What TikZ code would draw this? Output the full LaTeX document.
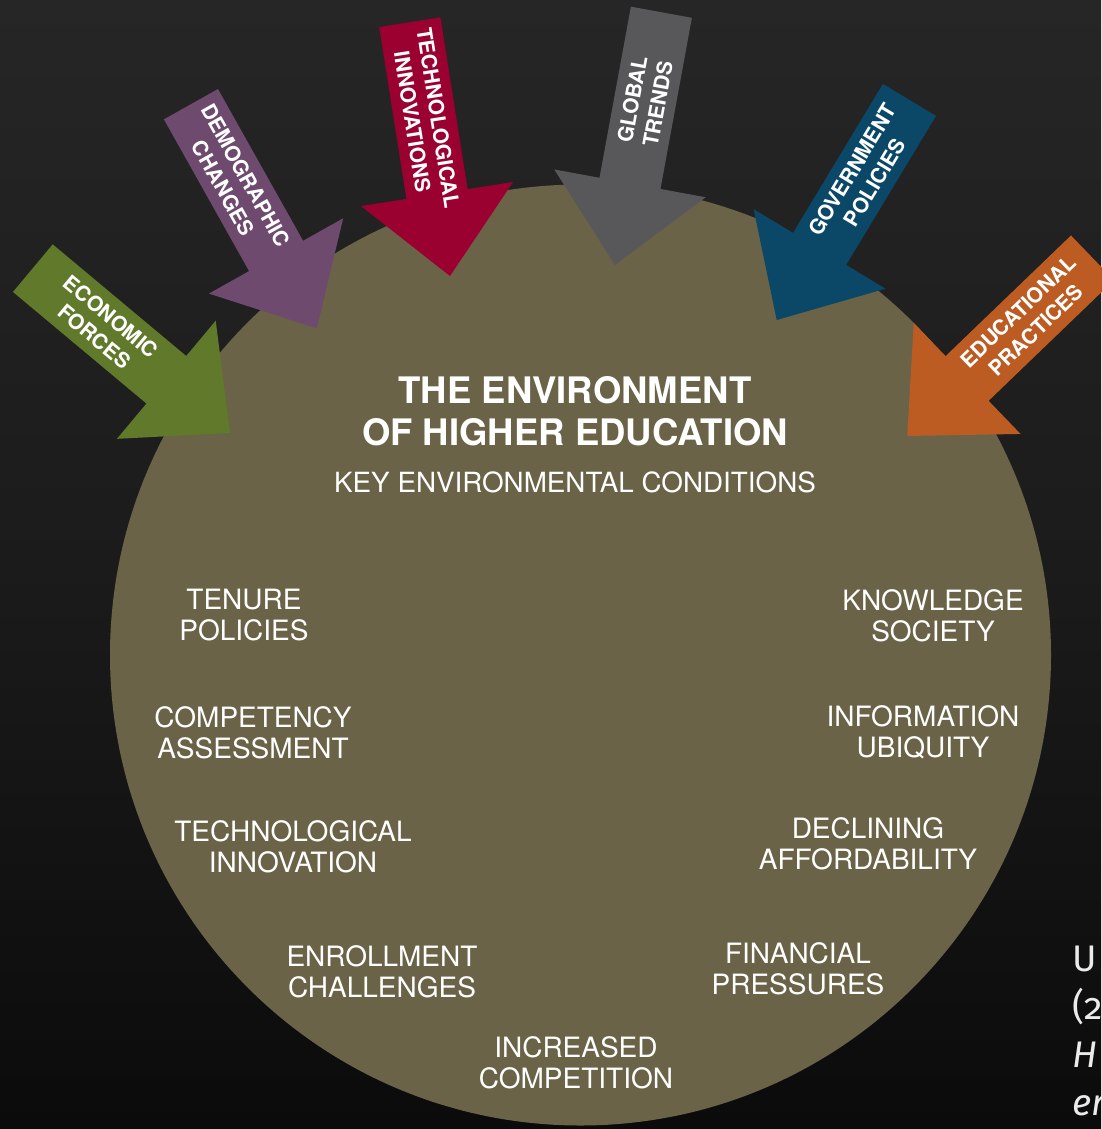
\documentclass[tikz,border=0pt]{standalone}
\usepackage{fontspec}
\setmainfont{TeX Gyre Heros}
\newfontfamily\notefont[Numbers=OldStyle]{Fira Sans}
\definecolor{bgtop}{RGB}{38,38,38}
\definecolor{bgmid}{RGB}{27,27,27}
\definecolor{bgbot}{RGB}{11,11,11}
\definecolor{envfill}{RGB}{106,99,71}
\definecolor{cgreen}{RGB}{96,121,42}
\definecolor{cpurple}{RGB}{110,74,110}
\definecolor{ccrimson}{RGB}{154,0,48}
\definecolor{cgrey}{RGB}{88,88,90}
\definecolor{cblue}{RGB}{11,72,104}
\definecolor{corange}{RGB}{189,92,34}
\tikzset{
  arrowlabel/.style={text=white, align=center, inner sep=0pt,
    font=\fontsize{21}{26}\selectfont\bfseries},
  condlabel/.style={text=white, align=center, inner sep=0pt,
    font=\fontsize{28}{31}\selectfont},
  titlelabel/.style={text=white, align=center, inner sep=0pt,
    font=\fontsize{36.5}{42}\selectfont\bfseries},
  sublabel/.style={text=white, inner sep=0pt,
    font=\fontsize{27.8}{31}\selectfont},
  notelabel/.style={text=white!92!black, inner sep=0pt, anchor=base west,
    font=\fontsize{37}{48}\selectfont\notefont},
}
% #1 name, #2 tip, #3 angle, #4 colour, #5 text, #6 extra text rotation, #7 text distance from tip
\newcommand\forcearrow[7]{%
  \begin{scope}[shift={#2}, rotate=#3]
    \fill[#4] (0,0) -- (-83,77) -- (-83,31) -- (-257,31) -- (-257,-31)
      -- (-83,-31) -- (-83,-77) -- cycle;
    \node[arrowlabel, transform shape, rotate=#6] (#1) at (-#7,0) {#5};
  \end{scope}}
\begin{document}
\begin{tikzpicture}[x=1pt,y=-1pt]
\useasboundingbox (0,0) rectangle (1101,1129);
\shade[top color=bgtop, bottom color=bgbot, middle color=bgmid] (0,0) rectangle (1101,1129);
\node[circle, fill=envfill, inner sep=0pt, minimum size=941pt] (env) at (580.5,655) {};

\forcearrow{econ}{(230,433)}{-39.9}{cgreen}{ECONOMIC\\FORCES}{0}{166}
\forcearrow{demo}{(316.7,328.3)}{-60.7}{cpurple}{DEMOGRAPHIC\\CHANGES}{0}{168}
\forcearrow{tech}{(450,276)}{-81}{ccrimson}{TECHNOLOGICAL\\INNOVATIONS}{0}{158}
\forcearrow{glob}{(615,265)}{-100.4}{cgrey}{GLOBAL\\TRENDS}{180}{166}
\forcearrow{gov}{(776.7,320)}{-121.1}{cblue}{GOVERNMENT\\POLICIES}{180}{168}
\forcearrow{edu}{(907.3,436)}{-136.1}{corange}{EDUCATIONAL\\PRACTICES}{180}{166}

\node[titlelabel] (title) at (575,411) {THE ENVIRONMENT\\OF HIGHER EDUCATION};
\node[sublabel] (key) at (575,482) {KEY ENVIRONMENTAL CONDITIONS};

\node[condlabel] (tenure) at (244,615.5) {TENURE\\POLICIES};
\node[condlabel] (comp) at (253,732.5) {COMPETENCY\\ASSESSMENT};
\node[condlabel] (techinn) at (293,846.5) {TECHNOLOGICAL\\INNOVATION};
\node[condlabel] (enrol) at (382,971.5) {ENROLLMENT\\CHALLENGES};
\node[condlabel] (incr) at (576,1062.5) {INCREASED\\COMPETITION};
\node[condlabel] (fin) at (798,968.5) {FINANCIAL\\PRESSURES};
\node[condlabel] (decl) at (868,843.5) {DECLINING\\AFFORDABILITY};
\node[condlabel] (info) at (923,732.5) {INFORMATION\\UBIQUITY};
\node[condlabel] (know) at (933,615.5) {KNOWLEDGE\\SOCIETY};

\node[notelabel] (n1) at (1072,971) {U};
\node[notelabel] (n2) at (1072,1019) {(2};
\node[notelabel] (n3) at (1072,1067) {\itshape H};
\node[notelabel] (n4) at (1072,1115) {\itshape er};
\end{tikzpicture}
\end{document}
